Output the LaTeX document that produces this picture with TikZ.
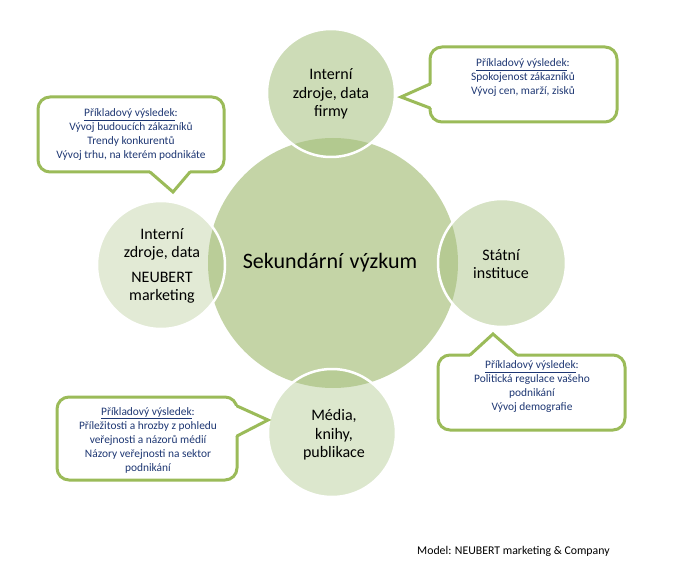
\documentclass[tikz,border=0pt]{standalone}
\usepackage{fontspec}
\setmainfont{Carlito}
\definecolor{bigfill}{RGB}{196,212,166}
\definecolor{outfill}{RGB}{165,192,125}
\definecolor{cgreen}{RGB}{155,187,89}
\definecolor{cnavy}{RGB}{30,55,115}
\tikzset{
  bigcirc/.style={circle, fill=bigfill, minimum size=250pt, inner sep=0pt},
  outcirc/.style={circle, fill=outfill, draw=white, line width=2.5pt, minimum size=128pt, inner sep=0pt},
  circtext/.style={align=center, text=black, font=\fontsize{16}{18.5}\selectfont},
  calloutbox/.style={draw=cgreen, line width=3pt, rounded corners=12pt, fill=white, inner sep=0pt},
  pointerline/.style={draw=cgreen, line width=3pt, line cap=round, line join=miter},
  cotext/.style={align=center, text=cnavy, font=\fontsize{11.4}{14}\selectfont},
}
\begin{document}
\begin{tikzpicture}[x=1pt,y=-1pt]
\fill[white] (0,0) rectangle (675,580);
\useasboundingbox (0,0) rectangle (675,580);

% central circle
\node[bigcirc] (big) at (333,263) {};
\node[font=\fontsize{22}{26}\selectfont, text=black] (bigtext) at (330,263) {Sekundární\hspace{0.3em}výzkum};

% outer circles
\node[outcirc, fill opacity=0.55] (top) at (331,93) {};
\node[outcirc, fill opacity=0.45] (right) at (502,263) {};
\node[outcirc, fill opacity=0.38] (bottom) at (332,433) {};
\node[outcirc, fill opacity=0.32] (left) at (161,265) {};

\node[circtext] (toptext) at (331,94) {Interní\\zdroje, data\\firmy};
\node[circtext] (righttext) at (501,264) {Státní\\instituce};
\node[circtext] (bottomtext) at (334,435) {Média,\\knihy,\\publikace};
\node[circtext] (lefttext) at (162,266) {Interní\\zdroje, data\\[6pt]NEUBERT\\marketing};

% callout 1 (top-left)
\node[calloutbox, minimum width=186pt, minimum height=75pt] (c1) at (131,134.5) {};
\fill[white] (150,168) -- (150,172) -- (173,192) -- (190,172) -- (190,168) -- cycle;
\draw[pointerline] (150,172) -- (173,192) -- (190,172);
\node[cotext] (c1t) at (131,135) {\underline{Příkladový výsledek}:\\Vývoj budoucích\ zákazníků\\Trendy konkurentů\\Vývoj trhu, na kterém podnikáte};

% callout 2 (top-right)
\node[calloutbox, minimum width=187pt, minimum height=75pt] (c2) at (523.5,84.5) {};
\fill[white] (434,84) -- (430,84) -- (401,97) -- (430,108) -- (434,108) -- cycle;
\draw[pointerline] (430,84) -- (401,97) -- (430,108);
\node[cotext] (c2t) at (523,78) {\underline{Příkladový výsledek}:\\Spokojenost zákazníků\\Vývoj cen, marží, zisků};

% callout 3 (bottom-right)
\node[calloutbox, minimum width=187pt, minimum height=75pt] (c3) at (531.5,392.5) {};
\fill[white] (470,359) -- (470,355) -- (493,334) -- (517,355) -- (517,359) -- cycle;
\draw[pointerline] (470,355) -- (493,334) -- (517,355);
\node[cotext] (c3t) at (532,387) {\underline{Příkladový výsledek}:\\Politická regulace vašeho\\podnikání\\Vývoj demografie};

% callout 4 (bottom-left)
\node[calloutbox, minimum width=180pt, minimum height=83pt] (c4) at (147,438.5) {};
\fill[white] (233,406) -- (237,406) -- (268,420) -- (237,436) -- (233,436) -- cycle;
\draw[pointerline] (237,406) -- (268,420) -- (237,436);
\node[cotext] (c4t) at (148,440) {\underline{Příkladový výsledek}:\\Příležitosti a hrozby z pohledu\\veřejnosti a názorů médií\\Názory veřejnosti na sektor\\podnikání};

% footer
\node[anchor=west, font=\fontsize{11.8}{14}\selectfont, text=black, inner sep=0pt] (footer) at (417,551) {Model: NEUBERT marketing \& Company};
\end{tikzpicture}
\end{document}
